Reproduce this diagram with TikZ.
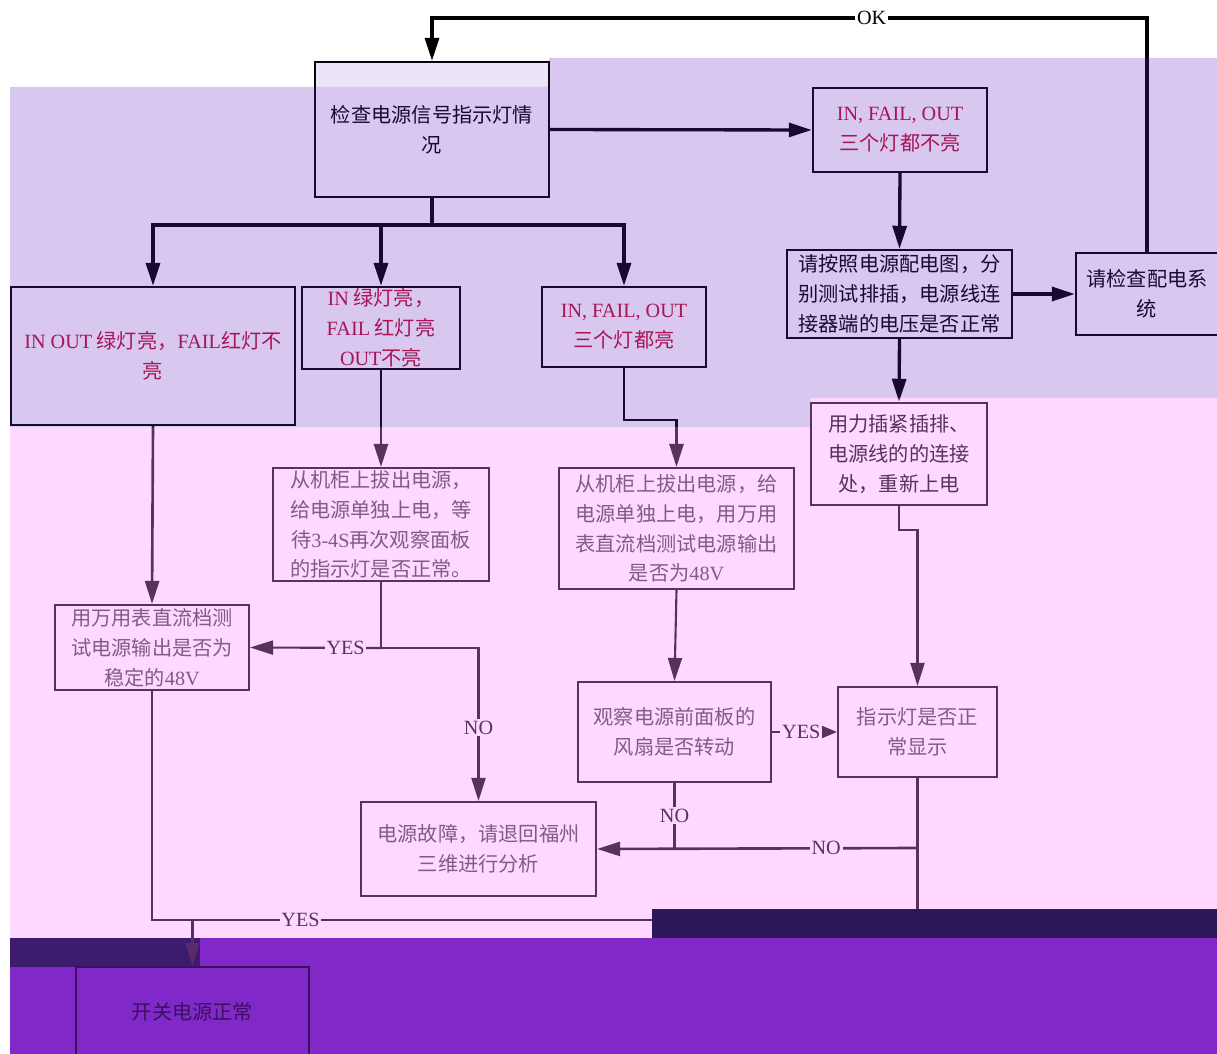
\documentclass[tikz,border=0pt]{standalone}
\usepackage{fontspec}
\setmainfont{Liberation Serif}
\newfontfamily\cjk{Noto Sans CJK SC}
\usetikzlibrary{arrows.meta}
\newcommand{\enf}[1]{{\rmfamily #1}}
\definecolor{lavtint}{RGB}{100,36,196}
\definecolor{pinktint}{RGB}{255,144,255}
\definecolor{bandpurple}{RGB}{128,41,200}
\definecolor{banddark}{RGB}{44,24,88}
\definecolor{redtxt}{RGB}{192,16,48}
\definecolor{oktxt}{RGB}{58,16,96}
\definecolor{okline}{RGB}{90,42,106}

\begin{document}
\begin{tikzpicture}[x=0.02cm,y=-0.02cm,
  box/.style={draw,line width=1.4pt,inner sep=0pt,align=center,
    font=\cjk\fontsize{11.5}{17}\selectfont},
  redbox/.style={box,text=redtxt},
  graybox/.style={box,line width=1.2pt,text=black!75},
  okbox/.style={box,draw=oktxt,text=oktxt},
  sz/.style 2 args={minimum width=#1*0.02cm,minimum height=#2*0.02cm},
  link/.style={line width=1.5pt},
  thick link/.style={line width=1.9pt},
  thin link/.style={line width=1.2pt},
  tip/.style={-{Triangle[length=0.46cm,width=0.28cm]}},
  arr/.style={link,tip},
  lbl/.style={fill=white,inner sep=1pt,font=\fontsize{11.5}{13}\selectfont}]
\useasboundingbox (0,0) rectangle (1217,1054);
\fill[white] (0,0) rectangle (1217,1054);
% Boxes
\node[box,sz={234}{135}] (check) at (432,129.5) {检查电源信号指示灯情\\况};
\node[redbox,sz={174}{84}] (none) at (900,130) {\enf{IN, FAIL, OUT}\\三个灯都不亮};
\node[box,sz={225}{88}] (measure) at (899.5,294) {请按照电源配电图，分\\别测试排插，电源线连\\接器端的电压是否正常};
\node[box,sz={142}{82}] (dist) at (1147,294) {请检查配电系\\统};
\node[redbox,sz={284}{138}] (b1) at (153,356) {\enf{IN OUT} 绿灯亮，\enf{FAIL}红灯不\\亮};
\node[redbox,sz={158}{82}] (b2) at (381,328) {\enf{IN} 绿灯亮，\\\enf{FAIL} 红灯亮\\\enf{OUT}不亮};
\node[redbox,sz={164}{80}] (b3) at (624,327) {\enf{IN, FAIL, OUT}\\三个灯都亮};
\node[box,sz={176}{102}] (reseat) at (899,454) {用力插紧插排、\\电源线的的连接\\处，重新上电};
\node[graybox,sz={216}{113}] (pull1) at (381,524.5) {从机柜上拔出电源，\\给电源单独上电，等\\待\enf{3-4S}再次观察面板\\的指示灯是否正常。};
\node[graybox,sz={235}{121}] (pull2) at (676.5,528.5) {从机柜上拔出电源，给\\电源单独上电，用万用\\表直流档测试电源输出\\是否为\enf{48V}};
\node[graybox,sz={194}{85}] (meter) at (152,647.5) {用万用表直流档测\\试电源输出是否为\\稳定的\enf{48V}};
\node[graybox,sz={193}{100}] (fan) at (674.5,732) {观察电源前面板的\\风扇是否转动};
\node[graybox,sz={159}{90}] (led) at (917.5,732) {指示灯是否正\\常显示};
\node[graybox,sz={235}{94}] (fault) at (478.5,849) {电源故障，请退回福州\\三维进行分析};
% Joints
\coordinate (top) at (0,18);
\coordinate (split) at (432,225);
\coordinate (bend) at (676.5,420);
\coordinate (rbend) at (899,530);
\coordinate (y1) at (381,648);
\coordinate (nojoin) at (674.5,848);
\coordinate (ledj) at (917.5,848);
\coordinate (botr) at (917.5,920);
\coordinate (okj) at (192.5,920);
% Links (upper part)
\draw[thick link,tip] (dist.north) -- (dist.north |- top) -- node[lbl,pos=0.385]{OK} (check.north |- top) -- (check.north);
\draw[thick link,tip] (check.east) -- (none.west);
\draw[thick link] (check.south) -- (split);
\draw[thick link,tip] (split) -| (b1.north);
\draw[thick link,tip] (split) -| (b2.north);
\draw[thick link,tip] (split) -| (b3.north);
\draw[thick link,tip] (none.south) -- (measure.north);
\draw[thick link,tip] (measure.east) -- (dist.west);
\draw[thick link,tip] (measure.south) -- (reseat.north);
\draw[arr] (b2.south) -- (pull1.north);
\draw[arr] (b3.south) |- (bend) -- (pull2.north);
\draw[arr] (b1.south) -- (meter.north);
% Links (lower part)
\draw[thin link] (pull1.south) -- (y1);
\draw[thin link,tip] (y1) -- node[lbl,pos=0.27]{YES} (meter.east);
\draw[thin link,tip] (y1) -| node[lbl,pos=0.76]{NO} (fault.north);
\draw[thin link,tip] (pull2.south) -- (fan.north);
\draw[thin link,tip] (reseat.south) -- (rbend) -| (led.north);
\draw[thin link,-{Triangle[length=0.3cm,width=0.24cm]}] (fan.east) -- node[lbl,pos=0.45]{YES} (led.west);
\draw[thin link] (fan.south) -- node[lbl]{NO} (nojoin);
\draw[thin link] (led.south) -- (ledj) -- (botr);
\draw[link,tip] (ledj) -- node[lbl,pos=0.285]{NO} (fault.east);
\draw[thin link] (meter.south) |- node[lbl,pos=0.597]{YES} (botr);
% Bands
\fill[lavtint,fill opacity=0.25] (10,87) -- (549,87) -- (549,58) -- (1217,58) -- (1217,398) -- (810,398) -- (810,427) -- (10,427) -- cycle;
\fill[lavtint,fill opacity=0.12] (315,62) rectangle (549,87);
\fill[pinktint,fill opacity=0.35] (10,427) -- (810,427) -- (810,398) -- (1217,398) -- (1217,938) -- (10,938) -- cycle;
\fill[bandpurple] (10,938) rectangle (1217,1054);
\fill[banddark] (652,909) rectangle (1217,938);
\fill[banddark!80!bandpurple] (10,938) rectangle (200,967);
\node[okbox,sz={233}{90}] (ok) at (192.5,1012) {开关电源正常};
\draw[thin link,tip,okline] (okj) -- (ok.north);
\end{tikzpicture}
\end{document}
